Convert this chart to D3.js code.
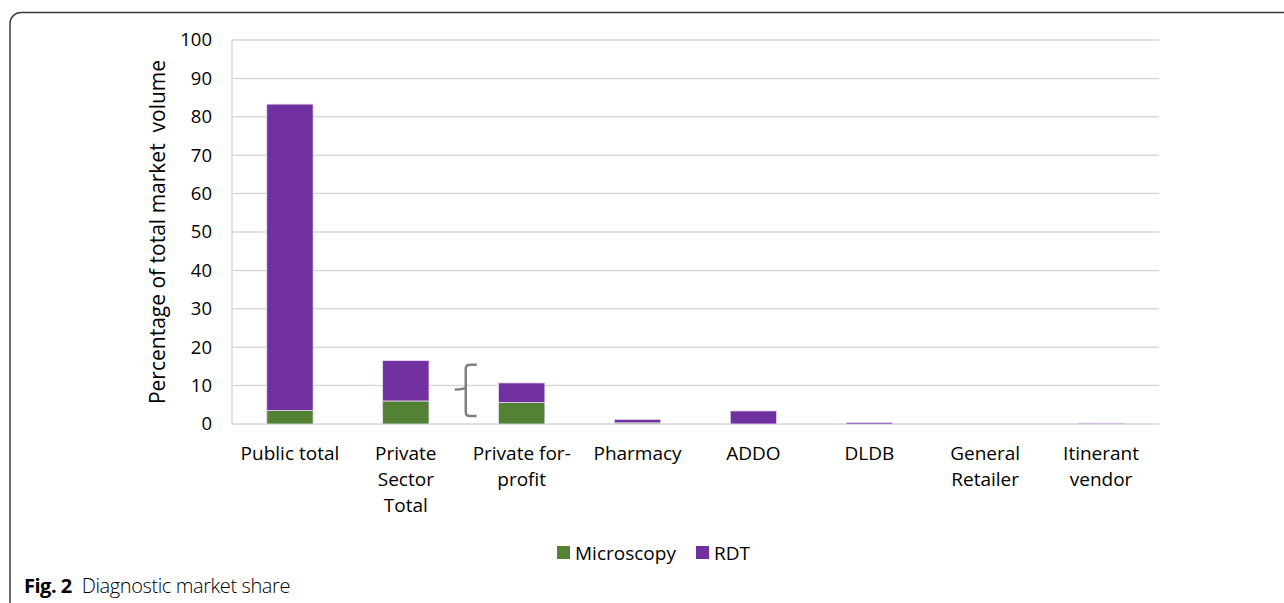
<!DOCTYPE html>
<html>
<head>
<meta charset="utf-8">
<script src="https://d3js.org/d3.v7.min.js"></script>
<style>
body { margin: 0; background: #fff; }
svg { display: block; font-family: 'Open Sans', sans-serif; }
</style>
</head>
<body>
<svg id="chart"></svg>
<script>
var categories = [["Public total"], ["Private", "Sector", "Total"], ["Private for-", "profit"], ["Pharmacy"],
                  ["ADDO"], ["DLDB"], ["General", "Retailer"], ["Itinerant", "vendor"]];
var microscopy = [3.5, 6.0, 5.6, 0.3, 0, 0, 0, 0];
var rdt = [79.8, 10.5, 5.1, 0.9, 3.4, 0.4, 0, 0.25];
var yTicks = [0, 10, 20, 30, 40, 50, 60, 70, 80, 90, 100];
var seriesNames = ["Microscopy", "RDT"];
var colors = ["#548235", "#7030a0"];

var W = 1284, H = 603;
var svg = d3.select("#chart").attr("width", W).attr("height", H);

// frame
svg.append("rect")
  .attr("x", 10).attr("y", 12.5).attr("width", W + 20).attr("height", H + 20)
  .attr("rx", 11).attr("ry", 11)
  .style("fill", "none").style("stroke", "#3a3a3a").style("stroke-width", 1.5);

var plot = {left: 232, right: 1159, top: 40, bottom: 424};

var x = d3.scaleBand()
  .domain(d3.range(categories.length))
  .range([plot.left, plot.right])
  .paddingInner(0.6).paddingOuter(0.3);

var y = d3.scaleLinear().domain([0, 100]).range([plot.bottom, plot.top]);

// gridlines
svg.append("g").selectAll("line").data(yTicks).enter().append("line")
  .attr("x1", plot.left).attr("x2", plot.right)
  .attr("y1", function(d){ return y(d); }).attr("y2", function(d){ return y(d); })
  .style("stroke", "#d9d9d9").style("stroke-width", 1.5);

svg.append("line")
  .attr("x1", plot.left).attr("x2", plot.left)
  .attr("y1", plot.top).attr("y2", plot.bottom)
  .style("stroke", "#d9d9d9").style("stroke-width", 1.5);

// y axis tick labels
var yAxis = d3.axisLeft(y).tickValues(yTicks).tickSize(0).tickPadding(20);
var ya = svg.append("g").attr("transform", "translate(" + plot.left + ",0)").call(yAxis);
ya.select(".domain").remove();
ya.selectAll("text").style("font-size", "18.5px").style("fill", "#000").style("font-family", "'Open Sans', sans-serif");

svg.append("text")
  .attr("transform", "translate(165," + ((plot.top + plot.bottom) / 2) + ") rotate(-90)")
  .attr("text-anchor", "middle")
  .style("font-size", "21px")
  .style("white-space", "pre")
  .text("Percentage of total market  volume");

// stacked bars
var rows = categories.map(function(c, i){ return {i: i, Microscopy: microscopy[i], RDT: rdt[i]}; });
var stack = d3.stack().keys(seriesNames)(rows);

svg.append("g").selectAll("g").data(stack).enter().append("g")
  .style("fill", function(d, i){ return colors[i]; })
  .selectAll("rect").data(function(d){ return d; }).enter().append("rect")
  .attr("x", function(d){ return x(d.data.i); })
  .attr("width", x.bandwidth())
  .attr("y", function(d){ return y(d[1]); })
  .attr("height", function(d){ return y(d[0]) - y(d[1]); })
  .style("stroke", "#e6dcef").style("stroke-width", function(d){ return d[1] > d[0] ? 0.8 : 0; });

// x labels
var xl = svg.append("g");
categories.forEach(function(lines, i){
  var t = xl.append("text")
    .attr("x", x(i) + x.bandwidth() / 2)
    .attr("y", 460)
    .attr("text-anchor", "middle")
    .style("font-size", "19px");
  lines.forEach(function(s, j){
    t.append("tspan").attr("x", x(i) + x.bandwidth() / 2).attr("dy", j == 0 ? 0 : 26).text(s);
  });
});

// brace between private total and for-profit
var bx = (x(1) + x.bandwidth() + x(2)) / 2;
svg.append("path")
  .attr("d", "M" + (bx + 13) + "," + y(15.4) + " H" + (bx + 6) + " Q" + (bx + 2) + "," + y(15.4) + " " + (bx + 2) + "," + (y(15.4) + 4)
     + " V" + (y(9) - 3) + " Q" + (bx + 2) + "," + y(9) + " " + (bx - 9) + "," + y(9)
     + " M" + (bx + 2) + "," + (y(9) - 3) + " V" + (y(2.1) - 4) + " Q" + (bx + 2) + "," + y(2.1) + " " + (bx + 6) + "," + y(2.1) + " H" + (bx + 13))
  .style("fill", "none").style("stroke", "#808080").style("stroke-width", 2.5);

// legend
var legend = svg.append("g").attr("transform", "translate(557,546)");
var lx = [0, 139];
seriesNames.forEach(function(n, i){
  legend.append("rect").attr("x", lx[i]).attr("y", 0).attr("width", 13).attr("height", 13).style("fill", colors[i]);
  legend.append("text").attr("x", lx[i] + 18).attr("y", 14).style("font-size", "19px").text(n);
});

// caption
var cap = svg.append("text").attr("x", 24).attr("y", 593).style("font-size", "20px").style("font-family", "'Open Sans', sans-serif");
cap.append("tspan").style("font-weight", "bold").style("letter-spacing", "-0.5px").text("Fig. 2");
cap.append("tspan").attr("dx", 10).style("font-weight", "300").style("letter-spacing", "-0.4px").text("Diagnostic market share");
</script>
</body>
</html>
